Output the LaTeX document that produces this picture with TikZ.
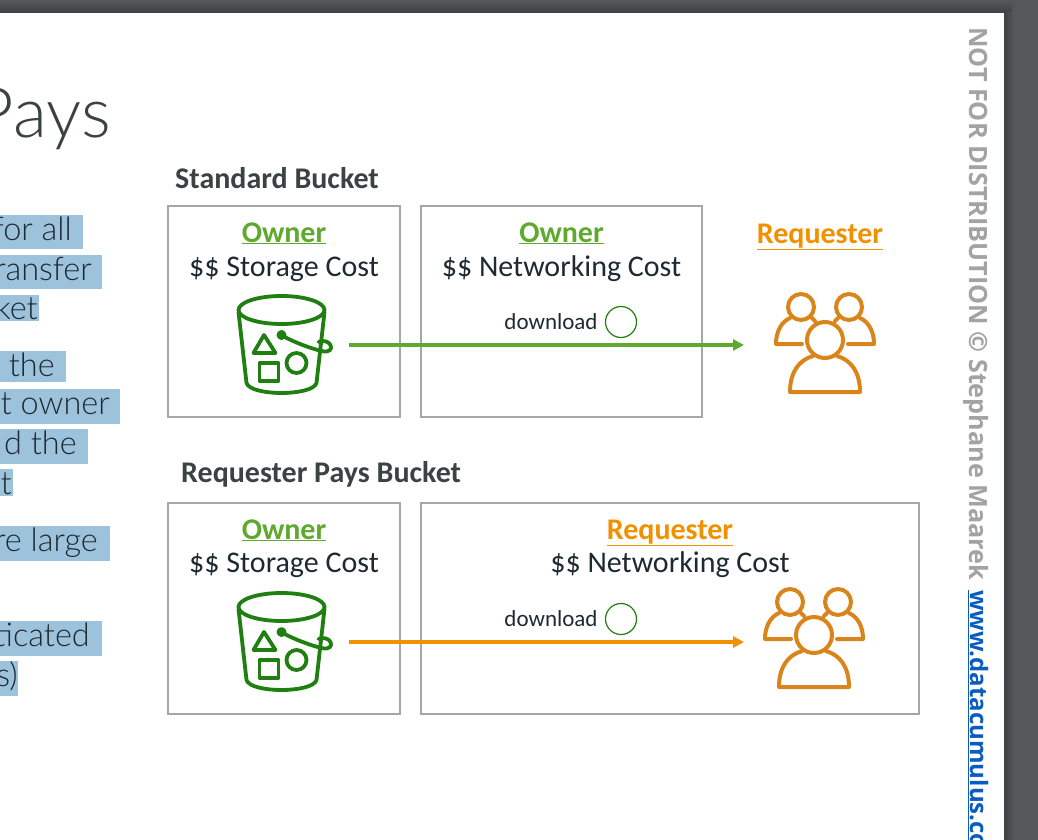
\documentclass[tikz,border=0pt]{standalone}
\usepackage{fontspec}
\setmainfont{Carlito}
\newfontfamily\gillish[UprightFont={* Light}]{Lato}
\newfontfamily\markfont{Open Sans}[BoldFont={* Bold}]
\usetikzlibrary{arrows.meta}
\definecolor{slidedark}{HTML}{54585B}
\definecolor{edgedark}{HTML}{3F4245}
\definecolor{hilite}{HTML}{9DC3DC}
\definecolor{ownergreen}{HTML}{5FA92F}
\definecolor{reqorange}{HTML}{F29100}
\definecolor{bucketgreen}{HTML}{1F7F10}
\definecolor{peopleorange}{HTML}{D9851B}
\definecolor{boxgrey}{HTML}{A6A6A6}
\definecolor{inkdark}{HTML}{1E2A32}
\definecolor{titleink}{HTML}{3A4244}
\definecolor{markgrey}{HTML}{A3A3A3}
\definecolor{linkblue}{HTML}{0B5CBF}
\tikzset{
  panel/.style={draw=boxgrey,line width=1.2pt,fill=white},
  headlab/.style={anchor=base,font=\fontsize{30}{33}\selectfont\bfseries,inner sep=0pt},
  costlab/.style={anchor=base,font=\fontsize{30}{34}\selectfont,text=inkdark,inner sep=0pt},
  seclab/.style={anchor=base west,font=\fontsize{30}{34}\selectfont\bfseries,text=titleink,inner sep=0pt},
  dllab/.style={anchor=base,font=\fontsize{23}{26}\selectfont,text=inkdark,inner sep=0pt},
  dlcirc/.style={circle,draw=bucketgreen,line width=1.2pt,minimum size=31pt,inner sep=0pt},
  leftlab/.style={anchor=base east,font=\gillish\fontsize{32.5}{38}\selectfont,text=inkdark,inner sep=0pt},
  flow/.style={line width=3.2pt,-{Triangle[length=11pt,width=11pt]}},
  pics/bucket/.style={code={
    \begin{scope}[draw=bucketgreen,line width=3.8pt,line cap=round,line join=round]
      \draw (0,0) ellipse [x radius=43pt,y radius=14pt];
      \draw (-43,2) -- (-35,73) .. controls (-33,80) and (-15,83) .. (0,83) .. controls (15,83) and (33,80) .. (35,73) -- (43,2);
      \draw[fill=bucketgreen] (0,25) circle [radius=3pt];
      \draw (3,27) .. controls (15,33) and (28,38) .. (40,41) .. controls (48,43) and (51,39) .. (49,35) .. controls (47,31) and (41,30) .. (37,32);
      \draw (-17.5,25) -- (-28,43) -- (-6,43) -- cycle;
      \draw (-22,53) rectangle (-3,71);
      \draw (15,53) circle [radius=10pt];
    \end{scope}}},
  pics/people/.style={code={
    \begin{scope}[draw=peopleorange,line width=4pt,line cap=round,line join=round]
      \draw (0,0) circle [radius=18pt];
      \draw (-12,16) .. controls (-26,20) and (-35,32) .. (-35,52) -- (35,52) .. controls (35,32) and (26,20) .. (12,16);
      \draw (-24,-33) circle [radius=13pt];
      \draw (24,-33) circle [radius=13pt];
      \draw (-23,4) -- (-49,4) .. controls (-49,-8) and (-44,-18) .. (-35,-22);
      \draw (-13,-22) -- (-10,-19);
      \draw (23,4) -- (49,4) .. controls (49,-8) and (44,-18) .. (35,-22);
      \draw (13,-22) -- (10,-19);
    \end{scope}}}
}
\begin{document}
\begin{tikzpicture}[x=1pt,y=-1pt]
\useasboundingbox (0,0) rectangle (1038,840);
\clip (0,0) rectangle (1038,840);
\fill[slidedark] (0,0) rectangle (1038,840);
\shade[top color=slidedark,bottom color=edgedark] (0,0) rectangle (1012,13);
\shade[left color=edgedark,right color=slidedark] (1004,13) rectangle (1014,840);
\fill[white] (0,13) rectangle (1004,840);

% left text, cut off by the frame
\fill[hilite] (0,215) rectangle (83,249);
\fill[hilite] (0,255) rectangle (102,289);
\fill[hilite] (0,295) rectangle (39,321);
\fill[hilite] (0,351) rectangle (66,382);
\fill[hilite] (0,389) rectangle (120,424);
\fill[hilite] (0,429) rectangle (88,464);
\fill[hilite] (0,469) rectangle (13,496);
\fill[hilite] (0,526) rectangle (110,561);
\fill[hilite] (0,621) rectangle (102,656);
\fill[hilite] (0,661) rectangle (18,696);
\node[anchor=base east,inner sep=0pt,font=\gillish\fontsize{70}{74}\selectfont,text=titleink] (pays) at (111,137) {Pays};
\node[leftlab] (l1) at (72,240) {for all};
\node[leftlab] (l2) at (92,280) {ransfer};
\node[leftlab] (l3) at (38,319) {ket};
\node[leftlab] (l4) at (55,376) {the};
\node[leftlab] (l5) at (110,414) {t owner};
\node[leftlab] (l6) at (77,454) {d the};
\node[leftlab] (l7) at (12,494) {t};
\node[leftlab] (l8) at (98,551) {re large};
\node[leftlab] (l9) at (90,646) {ticated};
\node[leftlab] (l10) at (18,686) {s)};

% panels
\draw[panel] (168,206) rectangle (400,417);
\draw[panel] (421,206) rectangle (702,417);
\draw[panel] (168,503) rectangle (400,714);
\draw[panel] (421,503) rectangle (919,714);

% section titles
\node[seclab] (t1) at (175,188) {Standard Bucket};
\node[seclab] (t2) at (181,482) {Requester Pays Bucket};

% top row
\node[headlab,text=ownergreen] (o1) at (284,242) {\underline{Owner}};
\node[costlab] (c1) at (284,276) {\$\$ Storage Cost};
\node[headlab,text=ownergreen] (o2) at (561.5,242) {\underline{Owner}};
\node[costlab] (c2) at (561.5,276) {\$\$ Networking Cost};
\node[headlab,text=reqorange] (r1) at (820,243) {\underline{Requester}};
\node[dllab] (d1) at (551,329) {download};
\node[dlcirc] (dc1) at (621,322) {};
\pic at (281.5,310) {bucket};
\pic at (825,340) {people};
\coordinate (s1) at (349,345);
\coordinate (e1) at (744,345);
\draw[flow,draw=ownergreen,fill=ownergreen] (s1) -- (e1);

% bottom row
\node[headlab,text=ownergreen] (o3) at (284,539) {\underline{Owner}};
\node[costlab] (c3) at (284,572) {\$\$ Storage Cost};
\node[headlab,text=reqorange] (r2) at (670,539) {\underline{Requester}};
\node[costlab] (c4) at (670,572) {\$\$ Networking Cost};
\node[dllab] (d2) at (551,626) {download};
\node[dlcirc] (dc2) at (621,619) {};
\pic at (281.5,607) {bucket};
\pic at (814,635) {people};
\coordinate (s2) at (349,642);
\coordinate (e2) at (744,642);
\draw[flow,draw=reqorange,fill=reqorange] (s2) -- (e2);

% watermark
\node[rotate=-90,anchor=north west,inner sep=0pt,font=\markfont\fontsize{25.2}{28}\selectfont\bfseries,text=markgrey] (wm) at (988.5,27) {NOT FOR DISTRIBUTION © Stephane Maarek};
\node[rotate=-90,anchor=north west,inner sep=0pt,font=\markfont\fontsize{24}{28}\selectfont\bfseries,text=linkblue] (wl) at (988.5,590) {\underline{www.datacumulus.com}};
\end{tikzpicture}
\end{document}
